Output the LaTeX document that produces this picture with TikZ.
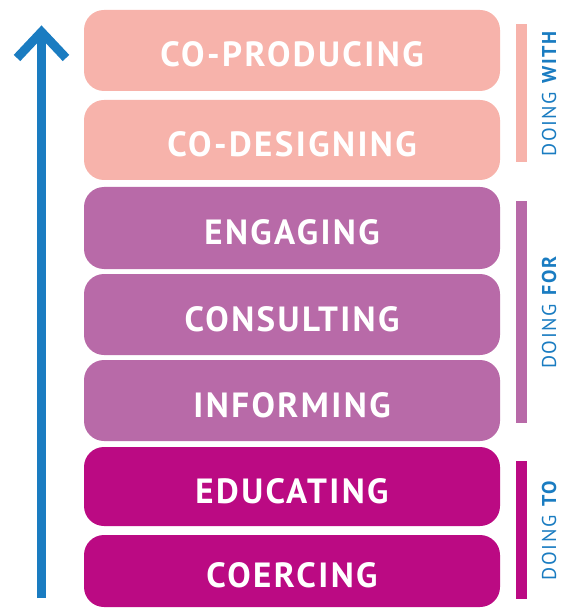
\documentclass[tikz,border=0pt]{standalone}
\usepackage{fontspec}
\setmainfont{PT Sans}
\usepackage{tikz}
\usetikzlibrary{calc}
\definecolor{withpink}{HTML}{F7B3AB}
\definecolor{forpurple}{HTML}{B86AA8}
\definecolor{tomagenta}{HTML}{BB0A83}
\definecolor{ladderblue}{HTML}{1A7CC1}
\tikzset{
  stage/.style={rounded corners=20pt,inner sep=0pt,minimum width=416pt,
    text height=33pt,text depth=0pt,text=white,
    font=\fontsize{35}{40}\selectfont\bfseries\addfontfeatures{LetterSpace=7}},
  grouplabel/.style={rotate=90,inner sep=0pt,text=ladderblue,
    font=\fontsize{20}{22}\selectfont\addfontfeatures{LetterSpace=8}},
  ladder/.style={ladderblue,line width=9pt,miter limit=10}
}
\begin{document}
\begin{tikzpicture}[x=1pt,y=-1pt]
\useasboundingbox (0,0) rectangle (560,609);

% draw the rungs of the ladder
\foreach \name/\y/\h/\col/\txt in {
	produce/50.5/81/withpink/CO-PRODUCING,
	design/140/80/withpink/CO-DESIGNING,
	engage/228/82/forpurple/ENGAGING,
	consult/314.5/81/forpurple/CONSULTING,
	inform/400.5/81/forpurple/INFORMING,
	educate/486.5/79/tomagenta/EDUCATING,
	coerce/571/72/tomagenta/COERCING}
\node[stage,fill=\col,minimum height=\h pt] (\name) at (292,\y) {\txt};

% the arrow on the left
\coordinate (base) at (41.5,598);
\coordinate (tip) at (41.5,32);
\coordinate (wingl) at (17,58);
\coordinate (wingr) at (66,58);
\draw[ladder] (base) -- (tip);
\draw[ladder] (wingl) -- (tip) -- (wingr);

% bars and labels for each group
\foreach \name/\top/\bot/\col/\word in {
	with/24/162/withpink/WITH,
	for/201/423/forpurple/FOR,
	to/461/599/tomagenta/TO}
{
	\fill[\col] (516,\top) rectangle (527,\bot) coordinate (\name bar);
	\node[grouplabel] (\name label) at (549,{(\top+\bot)/2}) {DOING \textbf{\word}};
}
\end{tikzpicture}
\end{document}
